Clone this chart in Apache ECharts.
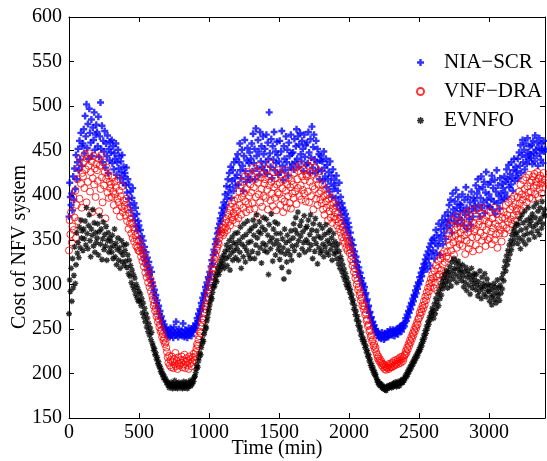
<!DOCTYPE html>
<html>
<head>
<meta charset="utf-8">
<script src="https://cdn.jsdelivr.net/npm/echarts@6/dist/echarts.min.js"></script>
<style>
html,body{margin:0;padding:0;background:#fff;}
#chart{width:547px;height:461px;}
</style>
</head>
<body>
<div id="chart"></div>
<script>
// Sampling step of the trace (minutes between consecutive samples)
const sampleStepMin = 5;

const seriesNames = ['NIA\u2212SCR', 'VNF\u2212DRA', 'EVNFO'];

const xTicks = [0, 500, 1000, 1500, 2000, 2500, 3000];
const yTicks = [150, 200, 250, 300, 350, 400, 450, 500, 550, 600];

// NIA-SCR cost, one value per 5 min (each row = 100 min)
const niaScr = [
 376,414,398,389,402,383,421,395,430,407,445,418,437,452,428,461,440,470,433,455,
 458,474,447,489,466,502,453,480,441,497,470,459,485,444,476,462,493,451,468,479,
 471,455,488,443,466,504,452,478,437,461,449,472,431,458,444,467,425,452,439,460,
 448,462,436,455,429,447,441,458,423,437,451,430,444,419,438,426,445,414,432,421,
 425,411,431,403,418,396,412,389,404,383,397,408,377,391,372,386,365,379,360,371,
 366,352,361,345,354,338,349,331,342,326,336,321,330,316,325,311,319,306,314,302,
 298,291,294,285,288,279,282,273,276,267,270,262,264,257,259,252,255,249,251,247,
 246,242,249,244,241,251,245,243,248,240,252,246,243,258,244,247,241,250,245,243,
 244,248,242,256,245,241,249,243,247,240,246,251,243,248,245,242,250,247,253,249,
 251,256,254,262,259,267,264,272,270,279,276,285,282,290,288,297,294,302,299,308,
 306,314,311,320,327,323,333,339,336,345,351,348,357,363,359,368,374,371,380,386,
 378,392,384,401,389,410,396,418,403,425,409,432,397,416,428,405,437,419,411,441,
 423,446,412,437,458,428,419,451,433,405,444,462,427,415,439,453,421,436,448,417,
 441,458,427,469,436,452,418,475,444,430,462,449,423,471,438,455,432,466,446,428,
 452,437,468,424,459,441,493,447,432,463,419,455,440,471,428,449,436,460,445,423,
 438,461,426,449,472,433,417,455,441,428,466,437,451,422,459,444,431,468,447,435,
 448,429,463,437,455,474,441,466,432,457,470,446,438,461,452,427,468,443,456,434,
 459,436,471,448,425,463,442,477,431,454,468,440,425,461,437,452,429,446,418,439,
 444,427,438,416,449,431,421,441,409,434,418,426,404,438,413,422,398,429,407,417,
 411,397,422,389,405,392,414,384,398,378,391,386,372,383,368,379,363,374,358,369,
 364,352,358,345,350,339,344,333,337,326,331,320,325,314,319,309,313,304,307,299,
 301,294,297,288,290,281,283,274,276,268,269,262,263,257,258,253,254,249,250,246,
 247,243,245,240,244,242,239,246,241,243,238,245,240,244,242,247,241,246,243,249,
 244,247,243,249,246,242,248,245,250,247,244,251,248,253,250,247,254,251,256,253,
 257,262,259,266,263,270,268,275,272,279,277,284,281,288,286,293,290,298,295,302,
 300,308,304,313,309,318,314,323,319,328,324,333,317,337,329,342,321,346,334,350,
 338,352,329,346,361,335,355,343,368,349,333,362,354,372,345,366,358,377,351,370,
 363,381,372,389,366,395,377,358,402,384,371,393,379,406,386,368,398,375,390,382,
 389,372,401,383,366,395,378,409,386,362,398,381,373,392,367,404,385,376,397,388,
 394,411,383,402,418,389,407,376,397,421,386,409,392,415,380,403,426,395,388,412,
 401,387,415,396,422,384,408,393,417,379,404,428,391,411,399,385,419,402,394,413,
 408,396,421,403,415,429,398,418,434,409,424,412,437,419,405,428,441,416,432,422,
 427,441,419,448,433,456,425,445,462,437,451,429,458,443,435,464,448,440,455,446,
 442,456,435,461,448,438,467,451,444,459,433,453,464,447,440,458,452,436,461,449,
 452
];

// VNF-DRA cost
const vnfDra = [
 338,372,356,381,347,365,398,361,375,405,352,389,418,371,430,396,441,413,386,425,
 421,437,408,446,429,392,441,415,433,447,404,426,438,381,419,444,412,430,398,435,
 428,416,441,382,433,407,445,420,392,437,411,426,374,418,431,403,422,397,415,408,
 412,398,420,404,389,415,401,409,383,396,418,392,405,376,399,387,410,381,394,385,
 389,377,396,371,384,362,380,368,374,357,369,352,364,348,360,355,343,350,341,338,
 349,337,344,331,339,326,334,320,329,313,323,308,317,302,311,297,306,292,300,287,
 283,276,279,270,273,264,267,258,261,252,255,247,249,241,244,237,239,233,235,229,
 224,218,212,220,209,215,207,219,213,206,216,210,223,208,214,205,218,211,209,215,
 212,219,207,215,210,221,206,213,217,209,214,205,219,211,216,208,213,218,222,215,
 219,224,228,233,231,238,242,247,245,253,257,262,260,268,272,277,275,282,286,290,
 294,299,303,308,312,318,316,323,328,333,331,338,342,347,345,352,356,360,358,364,
 355,362,358,369,364,373,361,378,370,383,366,387,375,391,372,380,394,377,386,369,
 382,396,374,404,389,411,378,398,415,386,402,421,393,381,407,426,390,399,384,412,
 403,422,391,431,409,385,418,398,427,376,414,401,433,392,420,407,387,424,399,413,
 418,397,429,406,384,421,411,436,394,415,402,388,426,409,397,419,383,412,403,428,
 401,414,389,423,396,408,381,417,393,428,405,386,412,399,420,391,409,385,416,402,
 412,397,425,404,431,390,418,408,427,399,434,411,395,421,406,429,402,417,393,423,
 421,404,433,392,415,426,399,438,410,384,423,407,431,396,418,389,412,402,427,395,
 404,391,412,384,399,378,407,393,386,401,372,396,382,389,375,397,369,385,391,376,
 381,373,388,366,379,370,362,375,358,368,353,364,349,359,346,355,341,351,338,347,
 343,335,339,328,332,321,325,314,318,307,311,300,304,294,297,288,291,282,285,276,
 279,272,275,266,268,259,261,253,255,247,249,241,243,236,238,231,233,227,229,224,
 221,217,219,214,216,212,214,209,211,207,210,205,208,204,207,206,209,205,211,207,
 210,207,212,208,214,209,211,215,210,213,216,211,214,218,212,216,219,214,217,220,
 221,225,223,229,227,233,231,237,235,241,239,245,243,249,247,253,251,257,255,261,
 262,268,265,272,269,276,273,281,277,286,282,291,287,296,292,301,297,306,302,311,
 307,296,315,302,321,309,293,318,326,311,304,329,316,334,322,309,337,325,314,331,
 336,350,329,357,344,366,338,353,372,347,333,361,355,376,341,364,350,369,345,358,
 351,369,343,362,378,355,334,367,349,381,358,340,372,346,363,384,353,337,368,359,
 362,344,376,353,385,367,339,371,358,380,349,365,386,354,372,343,361,377,350,368,
 370,352,381,359,345,374,363,386,350,368,356,379,341,365,372,357,383,361,348,375,
 366,381,357,374,389,363,378,370,392,361,384,373,396,368,387,377,399,371,390,382,
 385,398,378,404,391,412,383,401,395,417,388,407,399,420,392,410,403,423,397,414,
 404,417,396,421,409,424,401,415,411,426,398,419,407,422,413,402,418,409,425,414,
 417
];

// EVNFO cost
const evnfo = [
 267,305,292,318,281,329,296,310,342,301,322,358,335,347,330,364,341,372,352,360,
 338,362,351,371,344,386,357,340,366,378,349,331,362,355,384,343,369,336,358,347,
 352,368,333,359,377,345,362,328,351,370,339,356,343,365,327,349,358,336,352,341,
 348,336,355,329,343,362,331,346,322,339,352,327,341,318,336,349,325,333,344,321,
 338,326,345,319,333,312,327,309,321,302,316,298,311,294,307,289,300,285,296,281,
 292,281,289,276,284,268,279,263,273,258,267,252,262,247,256,243,251,238,246,234,
 231,226,228,221,223,216,218,211,213,207,208,202,204,199,200,195,197,193,194,190,
 191,187,189,184,188,186,190,185,183,188,186,192,184,187,189,183,186,190,185,188,
 185,189,183,187,191,184,188,186,190,183,187,185,189,192,186,190,188,193,191,196,
 197,201,205,209,207,214,218,223,221,229,233,238,236,244,248,253,251,259,263,268,
 272,277,281,286,284,291,296,300,298,305,309,303,313,318,311,322,316,326,320,330,
 324,333,318,337,329,344,321,339,331,349,316,342,335,353,327,347,338,357,330,345,
 340,358,327,349,336,364,318,345,353,331,368,342,325,356,338,371,347,333,360,329,
 348,363,337,372,355,329,366,344,378,352,335,359,370,341,357,324,364,346,375,338,
 361,344,373,336,355,311,367,348,340,379,352,326,362,345,370,333,357,349,368,339,
 344,328,357,336,319,351,341,306,362,334,347,325,355,338,314,349,333,360,327,343,
 352,368,338,361,375,344,357,381,349,333,366,354,371,340,359,347,377,336,363,350,
 365,347,372,339,356,378,344,361,329,368,351,337,374,346,360,323,354,341,367,335,
 352,338,363,345,331,356,342,367,336,349,358,333,346,361,339,352,327,344,357,334,
 348,336,341,329,345,323,337,318,331,327,314,322,309,317,305,312,300,307,296,302,
 298,291,294,285,288,279,282,272,276,266,270,260,264,254,258,249,252,243,246,238,
 240,234,236,229,231,224,226,219,221,214,216,209,211,205,207,201,203,198,199,195,
 193,190,191,187,189,186,188,184,186,183,185,182,184,181,185,183,186,184,187,185,
 186,184,188,185,189,186,190,187,185,189,191,188,186,190,192,189,193,190,194,192,
 195,198,196,201,199,204,202,207,205,210,208,213,211,216,214,219,217,222,220,225,
 224,229,227,233,231,238,236,243,240,248,245,253,250,258,255,263,260,268,265,273,
 270,262,278,267,284,273,280,289,276,293,284,298,288,303,295,307,299,311,302,315,
 307,296,314,303,320,310,298,325,315,306,329,318,311,324,302,317,326,308,321,313,
 316,304,322,309,297,314,302,319,293,308,315,299,311,289,305,318,296,309,301,312,
 305,294,311,299,287,303,292,315,297,284,308,295,301,289,312,298,286,306,293,300,
 292,281,298,286,277,294,288,301,283,297,279,291,305,287,296,282,299,290,307,295,
 312,304,319,326,315,332,322,338,328,344,334,349,339,355,345,360,350,364,356,368,
 358,346,367,352,374,340,361,378,349,369,355,382,345,363,372,357,386,350,367,375,
 371,358,379,364,387,353,375,367,391,360,382,370,356,386,374,363,393,368,379,384,
 377
];

function toPoints(vals) {
  return vals.map(function (v, i) { return [i * sampleStepMin, v]; });
}

const FONT = '"Liberation Serif", "Times New Roman", serif';
const plusPath = 'path://M2.3,0H4.7V2.3H7V4.7H4.7V7H2.3V4.7H0V2.3H2.3Z';
const starPath = 'path://M2.35,0H3.65V6H2.35Z M0,2.35H6V3.65H0Z M0.45,1.4L1.4,0.45L5.55,4.6L4.6,5.55Z M4.6,0.45L5.55,1.4L1.4,5.55L0.45,4.6Z';

const chart = echarts.init(document.getElementById('chart'), null, {renderer: 'canvas'});

const axisLineStyle = {color: '#000', width: 1};
const plainLabel = function (v) { return String(v); };

chart.setOption({
  animation: false,
  backgroundColor: '#fff',
  grid: {left: 69, top: 17, right: 2, bottom: 43, containLabel: false},
  legend: {
    orient: 'vertical',
    left: 411,
    top: 47,
    itemWidth: 7,
    itemHeight: 7,
    itemGap: 8,
    textStyle: {fontFamily: FONT, fontSize: 21, color: '#000', lineHeight: 21, padding: [0, 0, 0, 15]},
    data: seriesNames
  },
  xAxis: [{
    type: 'value', min: 0, max: 3400, interval: 500,
    position: 'bottom',
    axisLine: {show: true, lineStyle: axisLineStyle},
    axisTick: {show: true, inside: true, length: 5, lineStyle: {color: '#000'}},
    axisLabel: {fontFamily: FONT, fontSize: 20, color: '#000', margin: 5, showMaxLabel: false, formatter: plainLabel},
    splitLine: {show: false}
  }, {
    type: 'value', min: 0, max: 3400, interval: 500,
    position: 'top',
    axisLine: {show: true, onZero: false, lineStyle: axisLineStyle},
    axisTick: {show: true, inside: true, length: 5, lineStyle: {color: '#000'}},
    axisLabel: {show: false},
    splitLine: {show: false}
  }],
  yAxis: [{
    type: 'value', min: 150, max: 600, interval: 50,
    position: 'left',
    axisLine: {show: true, lineStyle: axisLineStyle},
    axisTick: {show: true, inside: true, length: 5, lineStyle: {color: '#000'}},
    axisLabel: {fontFamily: FONT, fontSize: 20, color: '#000', margin: 7, formatter: plainLabel},
    splitLine: {show: false}
  }, {
    type: 'value', min: 150, max: 600, interval: 50,
    position: 'right',
    axisLine: {show: true, onZero: false, lineStyle: axisLineStyle},
    axisTick: {show: true, inside: true, length: 5, lineStyle: {color: '#000'}},
    axisLabel: {show: false},
    splitLine: {show: false}
  }],
  series: [{
    name: seriesNames[0], type: 'scatter', xAxisIndex: 0, yAxisIndex: 0,
    symbol: plusPath, symbolSize: 7,
    itemStyle: {color: '#0000ff'},
    data: toPoints(niaScr)
  }, {
    name: seriesNames[1], type: 'scatter', xAxisIndex: 0, yAxisIndex: 0,
    symbol: 'circle', symbolSize: 7,
    itemStyle: {color: 'rgba(0,0,0,0)', borderColor: '#ff0000', borderWidth: 1},
    data: toPoints(vnfDra)
  }, {
    name: seriesNames[2], type: 'scatter', xAxisIndex: 0, yAxisIndex: 0,
    symbol: starPath, symbolSize: 6,
    itemStyle: {color: '#000000'},
    data: toPoints(evnfo)
  }],
  graphic: [{
    type: 'text', x: 277, y: 449,
    style: {text: 'Time (min)', font: '20px ' + FONT, fill: '#000', align: 'center', verticalAlign: 'middle'}
  }, {
    type: 'text', x: 20, y: 247, rotation: Math.PI / 2,
    style: {text: 'Cost of NFV system', font: '20px ' + FONT, fill: '#000', align: 'center', verticalAlign: 'middle'}
  }]
});
</script>
</body>
</html>
